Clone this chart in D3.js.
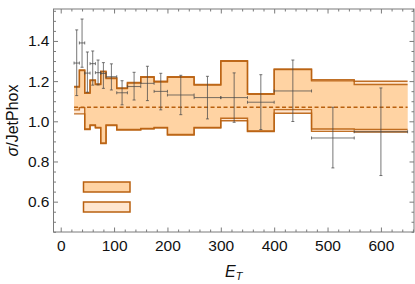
<!DOCTYPE html>
<html>
<head>
<meta charset="utf-8">
<script src="https://cdn.jsdelivr.net/npm/d3@7"></script>
<style>
  html, body { margin: 0; padding: 0; background: #fff; }
  svg { display: block; font-family: "Liberation Sans", Arial, sans-serif; }
</style>
</head>
<body>
<div id="chart"></div>
<script>
// bin edges in E_T
const binEdges = [25, 35, 45, 55, 65, 75, 85, 105, 125, 150, 175, 200, 250, 300, 350, 400, 470, 550, 650];

// band 1 (darker fill)
const bandUpperA = [1.173, 1.256, 1.143, 1.206, 1.186, 1.249, 1.216, 1.166, 1.193, 1.222, 1.199, 1.222, 1.183, 1.302, 1.138, 1.260, 1.201, 1.183];
const bandLowerA = [1.057, 1.068, 0.962, 0.982, 0.970, 0.892, 0.982, 0.959, 0.959, 0.965, 0.970, 0.934, 0.970, 1.015, 0.952, 1.058, 0.962, 0.959];
// band 2 (lighter fill)
const bandUpperB = [1.170, 1.253, 1.140, 1.203, 1.183, 1.246, 1.213, 1.163, 1.190, 1.219, 1.196, 1.219, 1.180, 1.299, 1.135, 1.257, 1.207, 1.199];
const bandLowerB = [1.037, 1.037, 0.959, 0.979, 0.967, 0.889, 0.979, 0.956, 0.956, 0.962, 0.967, 0.931, 0.967, 1.003, 0.949, 1.040, 0.950, 0.947];

const centralRatio = 1.07;

// measured ratio with errors, one per bin
const dataValues = [1.290, 1.390, 1.240, 1.287, 1.242, 1.238, 1.222, 1.142, 1.173, 1.189, 1.149, 1.131, 1.118, 1.118, 1.095, 1.151, 0.917, 0.948];
const dataLow    = [1.128, 1.269, 1.145, 1.180, 1.181, 1.164, 1.156, 1.082, 1.106, 1.103, 1.057, 1.033, 1.012, 0.995, 0.959, 0.999, 0.768, 0.730];
const dataHigh   = [1.455, 1.509, 1.345, 1.350, 1.305, 1.292, 1.286, 1.202, 1.244, 1.274, 1.239, 1.229, 1.224, 1.241, 1.232, 1.305, 1.070, 1.166];

const xMajorTicks = [0, 100, 200, 300, 400, 500, 600];
const yMajorTicks = [0.6, 0.8, 1.0, 1.2, 1.4];

const width = 415, height = 284;
const frame = {left: 53.5, right: 414, top: 9, bottom: 232};

const fillDark = '#ffd3a3';
const fillLight = '#ffe6cf';
const edgeColor = '#b9600f';
const frameColor = '#7a7a7a';

const svg = d3.select('#chart')
    .append('svg')
    .attr('width', width)
    .attr('height', height);

const x = d3.scaleLinear().domain([-13.5, 662]).range([frame.left, frame.right]);
const y = d3.scaleLinear().domain([0.449, 1.559]).range([frame.bottom, frame.top]);

// step data helper: value held over each bin, last value repeated at final edge
function stepData(lo, hi) {
    const pts = binEdges.slice(0, -1).map((e, i) => ({x: e, lo: lo[i], hi: hi[i]}));
    const n = lo.length - 1;
    pts.push({x: binEdges[n + 1], lo: lo[n], hi: hi[n]});
    return pts;
}

const area = d3.area()
    .curve(d3.curveStepAfter)
    .x(d => x(d.x))
    .y0(d => y(d.lo))
    .y1(d => y(d.hi));

const lineHi = d3.line().curve(d3.curveStepAfter).x(d => x(d.x)).y(d => y(d.hi));
const lineLo = d3.line().curve(d3.curveStepAfter).x(d => x(d.x)).y(d => y(d.lo));

const bandB = stepData(bandLowerB, bandUpperB);
const bandA = stepData(bandLowerA, bandUpperA);

// fills
svg.append('path').datum(bandB).attr('d', area).attr('fill', fillLight);
svg.append('path').datum(bandA).attr('d', area).attr('fill', fillDark);

// outlines
[bandB, bandA].forEach(b => {
    svg.append('path').datum(b).attr('d', lineHi)
        .attr('fill', 'none').attr('stroke', edgeColor).attr('stroke-width', 1.4).attr('stroke-opacity', 0.9);
    svg.append('path').datum(b).attr('d', lineLo)
        .attr('fill', 'none').attr('stroke', edgeColor).attr('stroke-width', 1.4).attr('stroke-opacity', 0.9);
});

// central dashed line
svg.append('line')
    .attr('x1', x(binEdges[0]))
    .attr('x2', x(binEdges[binEdges.length - 1]))
    .attr('y1', y(centralRatio))
    .attr('y2', y(centralRatio))
    .attr('stroke', edgeColor)
    .attr('stroke-width', 1.3)
    .attr('stroke-dasharray', '4,2.5');

// error bars
const points = dataValues.map((v, i) => ({
    x0: binEdges[i], x1: binEdges[i + 1], xm: (binEdges[i] + binEdges[i + 1]) / 2,
    v: v, lo: dataLow[i], hi: dataHigh[i]
}));

const errG = svg.append('g')
    .attr('stroke', '#4a4a4a')
    .attr('stroke-opacity', 0.75)
    .attr('stroke-width', 1)
    .attr('fill', 'none');

const cap = 1.5;
points.forEach(p => {
    const cx = x(p.xm), cy = y(p.v);
    errG.append('line').attr('x1', cx).attr('x2', cx).attr('y1', y(p.hi)).attr('y2', y(p.lo));
    errG.append('line').attr('x1', cx - cap).attr('x2', cx + cap).attr('y1', y(p.hi)).attr('y2', y(p.hi));
    errG.append('line').attr('x1', cx - cap).attr('x2', cx + cap).attr('y1', y(p.lo)).attr('y2', y(p.lo));
    errG.append('line').attr('x1', x(p.x0)).attr('x2', x(p.x1)).attr('y1', cy).attr('y2', cy);
    errG.append('line').attr('x1', x(p.x0)).attr('x2', x(p.x0)).attr('y1', cy - cap).attr('y2', cy + cap);
    errG.append('line').attr('x1', x(p.x1)).attr('x2', x(p.x1)).attr('y1', cy - cap).attr('y2', cy + cap);
});

// legend boxes (no text)
const legend = [fillDark, fillLight];
legend.forEach((c, i) => {
    svg.append('rect')
        .attr('x', 83.5)
        .attr('y', 182 + i * 20)
        .attr('width', 46.5)
        .attr('height', 10)
        .attr('fill', c)
        .attr('stroke', edgeColor)
        .attr('stroke-width', 1.5);
});

// frame with inward ticks
const xMinor = d3.range(0, 661, 20).filter(v => v % 100 !== 0);
const yMinor = d3.range(0.45, 1.56, 0.05).map(v => +v.toFixed(2)).filter(v => Math.round(v * 100) % 20 !== 0);

function styleAxis(g) {
    g.select('.domain').remove();
    g.selectAll('.tick line').attr('stroke', frameColor);
    g.selectAll('.tick text').attr('fill', '#111').attr('font-size', '15.5px')
        .attr('font-family', '"Liberation Sans", Arial, sans-serif');
}

svg.append('g').attr('transform', `translate(0,${frame.bottom})`)
    .call(d3.axisBottom(x).tickValues(xMajorTicks).tickSize(-4.5).tickPadding(8).tickFormat(d3.format('d')))
    .call(styleAxis);
svg.append('g').attr('transform', `translate(0,${frame.bottom})`)
    .call(d3.axisBottom(x).tickValues(xMinor).tickSize(-2.5).tickFormat(''))
    .call(styleAxis);
svg.append('g').attr('transform', `translate(0,${frame.top})`)
    .call(d3.axisTop(x).tickValues(xMajorTicks).tickSize(-4.5).tickFormat(''))
    .call(styleAxis);
svg.append('g').attr('transform', `translate(0,${frame.top})`)
    .call(d3.axisTop(x).tickValues(xMinor).tickSize(-2.5).tickFormat(''))
    .call(styleAxis);

svg.append('g').attr('transform', `translate(${frame.left},0)`)
    .call(d3.axisLeft(y).tickValues(yMajorTicks).tickSize(-4.5).tickPadding(4).tickFormat(d3.format('.1f')))
    .call(styleAxis);
svg.append('g').attr('transform', `translate(${frame.left},0)`)
    .call(d3.axisLeft(y).tickValues(yMinor).tickSize(-2.5).tickFormat(''))
    .call(styleAxis);
svg.append('g').attr('transform', `translate(${frame.right},0)`)
    .call(d3.axisRight(y).tickValues(yMajorTicks).tickSize(-4.5).tickFormat(''))
    .call(styleAxis);
svg.append('g').attr('transform', `translate(${frame.right},0)`)
    .call(d3.axisRight(y).tickValues(yMinor).tickSize(-2.5).tickFormat(''))
    .call(styleAxis);

svg.append('rect')
    .attr('x', frame.left)
    .attr('y', frame.top)
    .attr('width', frame.right - frame.left)
    .attr('height', frame.bottom - frame.top)
    .attr('fill', 'none')
    .attr('stroke', frameColor)
    .attr('stroke-width', 1);

// axis labels
const xLabel = svg.append('text')
    .attr('x', (frame.left + frame.right) / 2)
    .attr('y', 277)
    .attr('text-anchor', 'middle')
    .attr('font-size', '16px')
    .attr('fill', '#111');
xLabel.append('tspan').attr('font-style', 'italic').text('E');
xLabel.append('tspan').attr('font-style', 'italic').attr('font-size', '11px').attr('dy', 3).text('T');

const yLabel = svg.append('text')
    .attr('transform', `translate(18,${(frame.top + frame.bottom) / 2}) rotate(-90)`)
    .attr('text-anchor', 'middle')
    .attr('font-size', '16px')
    .attr('fill', '#111');
yLabel.append('tspan').attr('font-style', 'italic').text('σ');
yLabel.append('tspan').text('/JetPhox');
</script>
</body>
</html>
